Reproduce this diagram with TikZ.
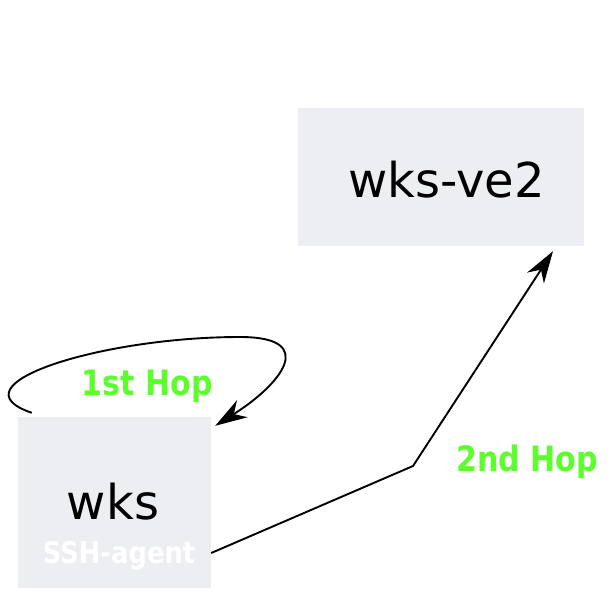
\documentclass[tikz,border=0pt]{standalone}
\usepackage{fontspec}
\setmainfont{DejaVu Sans}
\newfontfamily\condbold[FakeStretch=0.86]{DejaVu Sans Bold}
\usetikzlibrary{arrows.meta}
\definecolor{boxgray}{HTML}{EDEEF2}
\definecolor{hopgreen}{HTML}{5CFF2C}

\begin{document}
\begin{tikzpicture}[x=1pt,y=-1pt,
    hostbox/.style={fill=boxgray,inner sep=0},
    hop/.style={line width=1.9pt,-{Stealth[length=32pt,width=20pt,inset=10pt]}}]
    \pgfmathsetmacro{\wkswidth}{193}
    \pgfmathsetmacro{\wksheight}{171}
    \pgfmathsetmacro{\vewidth}{286}
    \pgfmathsetmacro{\veheight}{138}
    \providecommand{\hostfontsize}{\fontsize{48pt}{54pt}\selectfont}
    \providecommand{\agentfontsize}{\fontsize{30pt}{34pt}\selectfont}
    \providecommand{\hopfontsize}{\fontsize{35pt}{39pt}\selectfont}
    \useasboundingbox (0,0) rectangle (613,613);
    \node[hostbox,minimum width=\wkswidth*1pt,minimum height=\wksheight*1pt](wks) at (114.5,502.5){};
    \node[hostbox,minimum width=\vewidth*1pt,minimum height=\veheight*1pt](ve) at (441,177){};
    \node[anchor=base,inner sep=0](wkstext) at (113,519){\hostfontsize wks};
    \node[anchor=base,inner sep=0,text=white](agent) at (119,563){\condbold\agentfontsize SSH-agent};
    \node[anchor=base,inner sep=0](vetext) at (446.5,197){\hostfontsize wks-ve2};
    \node[anchor=base,inner sep=0,text=hopgreen](hopone) at (147,395){\condbold\hopfontsize 1st Hop};
    \node[anchor=base,inner sep=0,text=hopgreen](hoptwo) at (527,471){\condbold\hopfontsize 2nd Hop};
    \coordinate (bend) at (413,466);
    % first hop: back onto wks itself
    \draw[hop] ([xshift=14pt,yshift=4pt]wks.north west) .. controls (-50,385) and (100,337) .. (240,337)
        .. controls (320,337) and (280,385) .. ([xshift=4pt,yshift=-9pt]wks.north east);
    % second hop: on to wks-ve2
    \draw[hop] ([yshift=-50.5pt]wks.east) -- (bend) -- ([xshift=112pt,yshift=-5pt]ve.south);
\end{tikzpicture}
\end{document}
